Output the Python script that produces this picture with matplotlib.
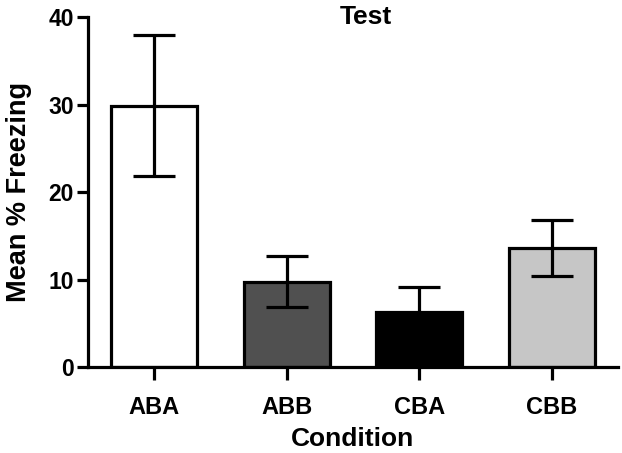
import matplotlib
matplotlib.use("Agg")
from matplotlib import pyplot as plt
import numpy as np

plt.rcParams['font.family'] = ['Liberation Sans', 'DejaVu Sans']
plt.rcParams['font.weight'] = 'bold'

# Data
conditions = ['ABA', 'ABB', 'CBA', 'CBB']
mean_freezing = [29.9, 9.75, 6.25, 13.6]
sem_freezing = [8.1, 2.95, 2.9, 3.2]
bar_colors = ['#ffffff', '#505050', '#000000', '#c6c6c6']

fig = plt.figure(figsize=(6.22, 4.53), dpi=100)
ax = fig.add_axes([0.1415, 0.19, 0.852, 0.772])

x = np.arange(len(conditions))
ax.bar(x, mean_freezing, width=0.65, color=bar_colors, edgecolor='black', linewidth=2.3, zorder=2)
ax.errorbar(x, mean_freezing, yerr=sem_freezing, fmt='none', ecolor='black',
            elinewidth=2.3, capsize=15, capthick=2.3, zorder=3)

ax.set_xlim(-0.5, 3.5)
ax.set_ylim(0, 40)
ax.set_yticks([0, 10, 20, 30, 40])
ax.set_xticks(x)
ax.set_xticklabels(conditions)

for side in ['top', 'right']:
    ax.spines[side].set_visible(False)
for side in ['left', 'bottom']:
    ax.spines[side].set_linewidth(2.3)

ax.tick_params(axis='y', length=8, width=2.3, labelsize=16.5, pad=2)
ax.tick_params(axis='x', length=9, width=2.3, labelsize=17, pad=12)

ax.set_ylabel('Mean % Freezing', fontsize=19.5, fontweight='bold', labelpad=12)
ax.set_xlabel('Condition', fontsize=19, fontweight='bold', labelpad=6)
fig.text(0.589, 0.962, 'Test', fontsize=19, fontweight='bold', ha='center', va='center')

fig.savefig('out.png', dpi=100)
